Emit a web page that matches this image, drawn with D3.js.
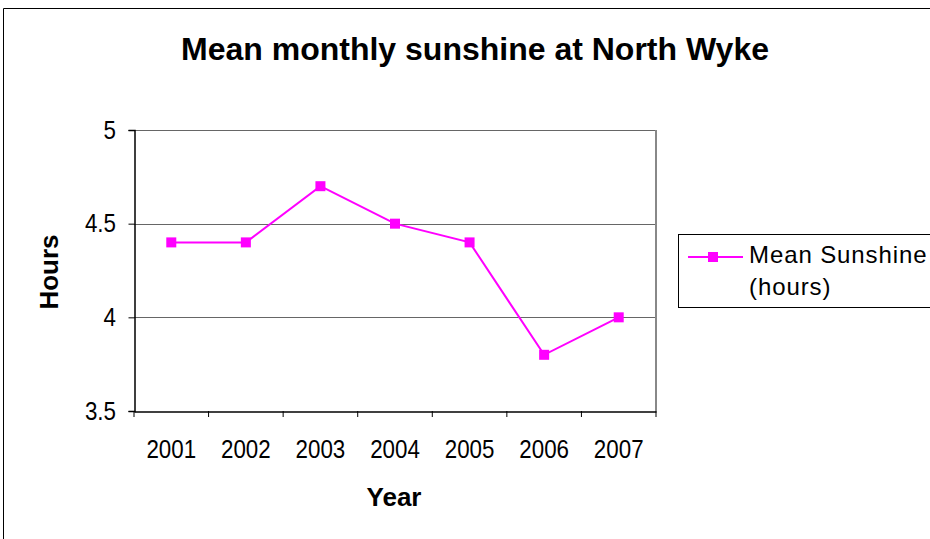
<!DOCTYPE html>
<html><head><meta charset="utf-8">
<script src="https://cdn.jsdelivr.net/npm/d3@7"></script>
<style>body{margin:0;background:#fff;}svg{display:block;font-family:"Liberation Sans",Arial,sans-serif;}</style>
</head><body>
<svg id="c" width="930" height="539"></svg>
<script>
const years = ["2001","2002","2003","2004","2005","2006","2007"];
const sunshine = [4.4, 4.4, 4.7, 4.5, 4.4, 3.8, 4.0];
const yTicks = [3.5, 4, 4.5, 5];
const yTickLabels = ["3.5","4","4.5","5"];
const seriesName = ["Mean Sunshine", "(hours)"];

const svg = d3.select("#c");
const W = 930, H = 539;
const m = {left:134, top:130, right:656, bottom:411};
const FONT = "Liberation Sans, Arial, sans-serif";
const SX = 0.86;

// outer frame
svg.append("path").attr("d", `M3.5,${H} V8.5 H${W+5}`).attr("fill","none").attr("stroke","#000").attr("stroke-width",1);

const x = d3.scaleBand().domain(years).range([m.left, m.right]);
const y = d3.scaleLinear().domain([3.5, 5]).range([m.bottom, m.top]);

// gridlines
svg.append("g").selectAll("line").data(yTicks.filter(t => t > 3.5)).join("line")
  .attr("x1", m.left).attr("x2", m.right)
  .attr("y1", d => Math.round(y(d)) + 0.5).attr("y2", d => Math.round(y(d)) + 0.5)
  .attr("stroke", "#666").attr("stroke-width", 1);

// right border of plot
svg.append("line").attr("x1", m.right).attr("x2", m.right).attr("y1", m.top).attr("y2", m.bottom)
  .attr("stroke", "#888").attr("stroke-width", 2);

// y axis
const yAxis = d3.axisLeft(y).tickValues(yTicks).tickFormat((d,i) => yTickLabels[i]).tickSize(6).tickPadding(12);
const gy = svg.append("g").attr("transform", `translate(${m.left + 0.5},0)`).call(yAxis);
gy.select(".domain").attr("stroke", "#000").attr("stroke-width", 1.5);
gy.selectAll(".tick line").attr("stroke", "#000");
gy.selectAll("text").attr("font-size", 26).attr("fill", "#000").attr("font-family", FONT)
  .attr("x", -18.5 / SX).attr("transform", `scale(${SX},1)`);

// x axis
const xAxis = d3.axisBottom(x).tickSize(0).tickPadding(28.5);
const gx = svg.append("g").attr("transform", `translate(0,${m.bottom + 0.5})`).call(xAxis);
gx.select(".domain").attr("stroke", "#000").attr("stroke-width", 1.5);
gx.selectAll("text").attr("font-size", 26).attr("fill", "#000").attr("font-family", FONT)
  .attr("transform", `scale(${SX},1)`);
// category boundary ticks
const bounds = years.map(d => x(d)).concat([m.right]);
svg.append("g").selectAll("line").data(bounds).join("line")
  .attr("x1", d => d).attr("x2", d => d).attr("y1", m.bottom).attr("y2", m.bottom + 6)
  .attr("stroke", "#000").attr("stroke-width", 1);

// line
const cx = d => x(d) + x.bandwidth() / 2;
const line = d3.line().x((d,i) => cx(years[i])).y(d => y(d));
svg.append("path").datum(sunshine).attr("d", line).attr("fill", "none")
  .attr("stroke", "#FF00FF").attr("stroke-width", 2);
svg.append("g").selectAll("rect").data(sunshine).join("rect")
  .attr("x", (d,i) => cx(years[i]) - 5).attr("y", d => y(d) - 5)
  .attr("width", 10).attr("height", 10).attr("fill", "#FF00FF");

// title
svg.append("text").attr("x", 475).attr("y", 60).attr("text-anchor", "middle")
  .attr("font-size", 32).attr("font-weight", "bold").text("Mean monthly sunshine at North Wyke");
// axis titles
svg.append("text").attr("x", 394).attr("y", 506).attr("text-anchor", "middle")
  .attr("font-size", 26).attr("font-weight", "bold").text("Year");
svg.append("text").attr("transform", "translate(58,272) rotate(-90)").attr("text-anchor", "middle")
  .attr("font-size", 26).attr("font-weight", "bold").text("Hours");

// legend
const lg = svg.append("g");
lg.append("rect").attr("x", 678.5).attr("y", 234.5).attr("width", 270).attr("height", 73)
  .attr("fill", "#fff").attr("stroke", "#000").attr("stroke-width", 1);
lg.append("line").attr("x1", 688).attr("x2", 743).attr("y1", 257).attr("y2", 257)
  .attr("stroke", "#FF00FF").attr("stroke-width", 2);
lg.append("rect").attr("x", 708).attr("y", 252).attr("width", 10).attr("height", 10).attr("fill", "#FF00FF");
lg.selectAll("text").data(seriesName).join("text")
  .attr("x", 749).attr("y", (d,i) => 263 + i * 32).attr("font-size", 24)
  .attr("letter-spacing", 0.9).text(d => d);
</script>
</body></html>
